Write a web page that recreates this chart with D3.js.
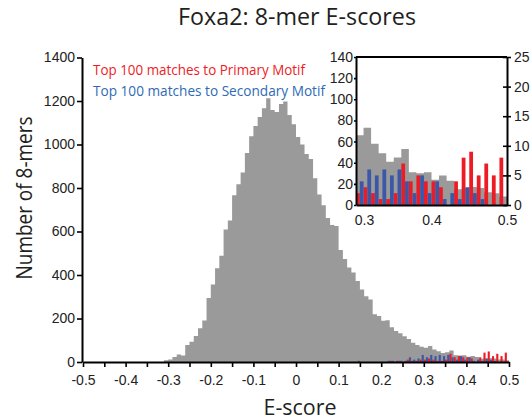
<!DOCTYPE html>
<html>
<head>
<meta charset="utf-8">
<script src="https://cdn.jsdelivr.net/npm/d3@7/dist/d3.min.js"></script>
<style>
body { margin: 0; background: #ffffff; }
svg { display: block; }
</style>
</head>
<body>
<script>
const svgWidth = 531;
const svgHeight = 420;

// Histogram bins (0.01 wide). Gray = all 8-mers, first non-empty bin starts at -0.31
const binWidth = 0.01;
const grayStart = -0.31;
const grayCounts = [8, 12, 23, 34, 30, 78, 93, 119, 155, 191,
    294, 356, 431, 488, 609, 651, 767, 817, 871, 961,
    1038, 1085, 1127, 1167, 1213, 1159, 1150, 1186, 1198, 1136,
    1093, 1034, 1000, 956, 933, 845, 770, 721, 662, 630,
    625, 515, 473, 434, 411, 372, 333, 302, 287, 220,
    212, 190, 192, 160, 142, 132, 118, 106, 89, 78,
    70, 66, 73, 58, 49, 41, 45, 53, 31, 30,
    31, 24, 28, 23, 15, 16, 17, 16, 12, 11, 8];

// Top 100 matches, bins from 0.14 to 0.49
const colorStart = 0.14;
const primaryCounts = [0, 0, 0, 0, 0, 0, 0, 0, 1, 0, 1, 0, 2, 1, 1, 2,
    2, 3, 2, 1, 1, 2, 7, 4, 5, 4, 4, 3, 0, 4, 8, 9, 5, 7, 5, 8];
const secondaryCounts = [1, 0, 0, 0, 0, 0, 0, 1, 1, 1, 1, 1, 4, 2, 3, 6,
    4, 6, 5, 6, 5, 6, 4, 2, 5, 2, 4, 1, 2, 1, 3, 2, 1, 0, 0, 0];

const xTickValues = [-0.5, -0.4, -0.3, -0.2, -0.1, 0, 0.1, 0.2, 0.3, 0.4, 0.5];
const xTickLabels = ["-0.5", "-0.4", "-0.3", "-0.2", "-0.1", "0", "0.1", "0.2", "0.3", "0.4", "0.5"];
const xMinorTicks = [-0.45, -0.35, -0.25, -0.15, -0.05, 0.05, 0.15, 0.25, 0.35, 0.45];
const yTickValues = [0, 200, 400, 600, 800, 1000, 1200, 1400];

const insetXTicks = [0.3, 0.4, 0.5];
const insetXLabels = ["0.3", "0.4", "0.5"];
const insetLeftTicks = [0, 20, 40, 60, 80, 100, 120, 140];
const insetRightTicks = [0, 5, 10, 15, 20, 25];

const grayColor = "#9a9a9a";
const redColor = "#ed1c24";
const blueColor = "#3b57a7";
const tickFont = "'Liberation Sans', Arial, sans-serif";
const labelFont = "'Open Sans', 'Noto Sans', sans-serif";

const svg = d3.select("body")
    .append("svg")
    .attr("width", svgWidth)
    .attr("height", svgHeight);

// Scales for the main chart
const x = d3.scaleLinear().domain([-0.5, 0.5]).range([83, 509]);
const y = d3.scaleLinear().domain([0, 1400]).range([362, 57.5]);
// the colored bars in the main chart are shown on a stretched hidden scale
const yColor = d3.scaleLinear().domain([0, 260]).range([362, 57.5]);

const round2 = v => Math.round(v * 100) / 100;

const grayBins = grayCounts.map((c, i) => ({ lo: round2(grayStart + i * binWidth), count: c }));
const colorBins = primaryCounts.map((c, i) => ({
    lo: round2(colorStart + i * binWidth),
    primary: c,
    secondary: secondaryCounts[i]
}));

// step shaped area for a histogram
function stepPoints(bins) {
    const last = bins[bins.length - 1];
    return bins.concat([{ lo: round2(last.lo + binWidth), count: last.count }]);
}

const grayArea = d3.area()
    .curve(d3.curveStepAfter)
    .x(d => x(d.lo))
    .y0(y(0))
    .y1(d => y(d.count));

svg.append("path")
    .datum(stepPoints(grayBins))
    .attr("d", grayArea)
    .style("fill", grayColor);

// Colored bars: primary in the left half of a bin, secondary in the right half
function drawColorBars(g, bins, xs, ys) {
    g.selectAll(".primary")
        .data(bins.filter(d => d.primary > 0))
        .enter()
        .append("rect")
        .attr("x", d => xs(d.lo))
        .attr("y", d => ys(d.primary))
        .attr("width", d => (xs(d.lo + binWidth) - xs(d.lo)) / 2)
        .attr("height", d => ys(0) - ys(d.primary))
        .style("fill", redColor);

    g.selectAll(".secondary")
        .data(bins.filter(d => d.secondary > 0))
        .enter()
        .append("rect")
        .attr("x", d => xs(d.lo + binWidth / 2))
        .attr("y", d => ys(d.secondary))
        .attr("width", d => (xs(d.lo + binWidth) - xs(d.lo)) / 2)
        .attr("height", d => ys(0) - ys(d.secondary))
        .style("fill", blueColor);
}

drawColorBars(svg.append("g"), colorBins, x, yColor);

// Main axes
svg.append("g")
    .attr("transform", `translate(0,${y(0)})`)
    .call(d3.axisBottom(x)
        .tickValues(xTickValues)
        .tickFormat((d, i) => xTickLabels[i])
        .tickSize(5)
        .tickSizeOuter(0)
        .tickPadding(8));

svg.append("g")
    .attr("transform", `translate(0,${y(0)})`)
    .call(d3.axisBottom(x)
        .tickValues(xMinorTicks)
        .tickFormat("")
        .tickSize(5)
        .tickSizeOuter(0))
    .select(".domain").remove();

svg.append("g")
    .attr("transform", `translate(${x(-0.5) - 1},0)`)
    .call(d3.axisLeft(y)
        .tickValues(yTickValues)
        .tickFormat(d3.format("d"))
        .tickSize(5)
        .tickSizeOuter(0)
        .tickPadding(2));

svg.selectAll(".domain").style("stroke", "#000").style("stroke-width", 2);
svg.selectAll(".tick line").style("stroke", "#000").style("stroke-width", 1.6);
svg.selectAll(".tick text")
    .style("font-family", tickFont)
    .style("font-size", "14px")
    .style("fill", "#222");

// Inset
const inset = svg.append("g");
const xIn = d3.scaleLinear().domain([0.3, 0.5]).range([356, 507]);
const yInL = d3.scaleLinear().domain([0, 140]).range([205, 57]);
const yInR = d3.scaleLinear().domain([0, 25]).range([205, 57]);

inset.append("rect")
    .attr("x", xIn(0.3))
    .attr("y", yInL(140))
    .attr("width", xIn(0.5) - xIn(0.3))
    .attr("height", yInL(0) - yInL(140))
    .style("fill", "#ffffff");

const insetGray = grayBins.filter(d => d.lo >= 0.3 - 1e-9);
inset.append("path")
    .datum(stepPoints(insetGray))
    .attr("d", d3.area()
        .curve(d3.curveStepAfter)
        .x(d => xIn(d.lo))
        .y0(yInL(0))
        .y1(d => yInL(d.count)))
    .style("fill", grayColor);

drawColorBars(inset.append("g"), colorBins.filter(d => d.lo >= 0.3 - 1e-9), xIn, yInR);

// inset frame
inset.append("line")
    .attr("x1", xIn(0.3)).attr("x2", xIn(0.5))
    .attr("y1", yInL(140)).attr("y2", yInL(140))
    .style("stroke", "#000").style("stroke-width", 2);

inset.append("g")
    .attr("transform", `translate(${xIn(0.3)},0)`)
    .call(d3.axisLeft(yInL).tickValues(insetLeftTicks).tickSize(2).tickSizeOuter(0).tickPadding(1));

const inRight = inset.append("g")
    .attr("transform", `translate(${xIn(0.5)},0)`)
    .call(d3.axisRight(yInR).tickValues(insetRightTicks).tickSize(4).tickSizeOuter(0).tickPadding(3));
inRight.selectAll(".tick line").attr("x1", -4);

const inBottom = inset.append("g")
    .attr("transform", `translate(0,${yInL(0)})`)
    .call(d3.axisBottom(xIn)
        .tickValues(insetXTicks)
        .tickFormat((d, i) => insetXLabels[i])
        .tickSize(0)
        .tickSizeOuter(0)
        .tickPadding(10));
// first label sits a little right of the corner, clear of the "0" on the left axis
inBottom.selectAll(".tick text").attr("dx", (d, i) => i === 0 ? 8 : 0);

inset.selectAll(".domain").style("stroke", "#000").style("stroke-width", 2);
inset.selectAll(".tick line").style("stroke", "#000").style("stroke-width", 1.6);
inset.selectAll(".tick text")
    .style("font-family", tickFont)
    .style("font-size", "14px")
    .style("fill", "#222");

// Title and axis labels
svg.append("text")
    .attr("x", 297)
    .attr("y", 25)
    .attr("text-anchor", "middle")
    .attr("textLength", 238)
    .attr("lengthAdjust", "spacingAndGlyphs")
    .style("font-family", labelFont)
    .style("font-size", "24px")
    .style("fill", "#231f20")
    .text("Foxa2: 8-mer E-scores");

svg.append("text")
    .attr("x", 300)
    .attr("y", 415)
    .attr("text-anchor", "middle")
    .attr("textLength", 73)
    .attr("lengthAdjust", "spacingAndGlyphs")
    .style("font-family", labelFont)
    .style("font-size", "22px")
    .style("fill", "#231f20")
    .text("E-score");

svg.append("text")
    .attr("transform", "translate(32,198) rotate(-90)")
    .attr("text-anchor", "middle")
    .attr("textLength", 163)
    .attr("lengthAdjust", "spacingAndGlyphs")
    .style("font-family", labelFont)
    .style("font-size", "22px")
    .style("fill", "#231f20")
    .text("Number of 8-mers");

// Legend
const legendLines = [
    { text: "Top 100 matches to Primary Motif", color: redColor, width: 212 },
    { text: "Top 100 matches to Secondary Motif", color: "#2e6bb4", width: 232 }
];

svg.selectAll(".legend")
    .data(legendLines)
    .enter()
    .append("text")
    .attr("x", 93)
    .attr("y", (d, i) => 75 + i * 20.5)
    .attr("textLength", d => d.width)
    .attr("lengthAdjust", "spacingAndGlyphs")
    .style("font-family", labelFont)
    .style("font-size", "14px")
    .style("fill", d => d.color)
    .text(d => d.text);
</script>
</body>
</html>
